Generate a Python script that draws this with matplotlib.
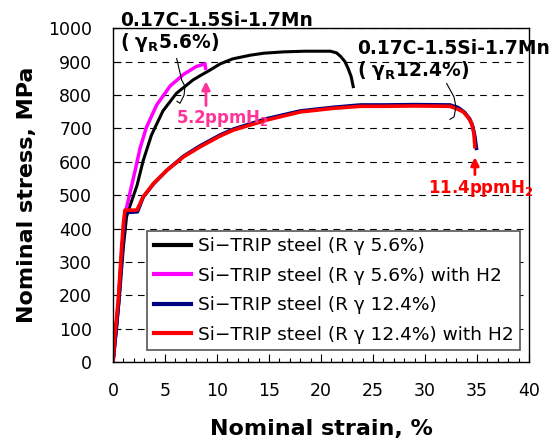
import matplotlib
matplotlib.use("Agg")
import matplotlib.pyplot as plt

plt.rcParams['font.family'] = ['DejaVu Sans']
plt.rcParams['mathtext.fontset'] = 'dejavusans'
plt.rcParams['mathtext.default'] = 'bf'

# Stress-strain curves (strain %, stress MPa)
strain_56 = [0, 0.35, 0.67, 1.0, 1.3, 1.6, 2.3, 2.9, 3.7, 4.8, 6.1, 7.7, 8.4, 9.3, 10.3,
             11.5, 13.2, 14.5, 16.4, 18.5, 20.9, 21.5, 21.9, 22.3, 22.6, 22.9, 23.1]
stress_56 = [0, 106, 215, 345, 435, 465, 528, 603, 680, 752, 805, 845, 858, 874, 893,
             908, 919, 925, 929, 931, 931, 926, 915, 900, 880, 855, 825]

strain_56h = [0, 0.3, 0.6, 0.9, 1.15, 1.32, 2.1, 2.6, 3.2, 4.2, 5.5, 6.8, 8.0, 8.85, 8.9]
stress_56h = [0, 100, 215, 350, 450, 465, 570, 640, 702, 770, 827, 862, 885, 893, 880]

strain_124 = [0, 0.25, 0.55, 0.7, 0.88, 1.05, 1.2, 2.35, 2.9, 3.9, 5.2, 6.8, 8.4, 10.3,
              11.6, 14.8, 18.0, 21.2, 23.8, 26.0, 29.0, 32.4, 33.2, 33.8, 34.3, 34.6, 34.8, 34.95]
stress_124 = [0, 80, 180, 262, 340, 410, 448, 450, 494, 534, 575, 617, 648, 680,
              698, 729, 752, 763, 770, 770, 771, 770, 762, 748, 728, 705, 675, 640]

strain_124h = [0, 0.2, 0.5, 0.67, 0.83, 1.0, 1.15, 2.3, 2.9, 3.9, 5.2, 6.8, 8.4, 10.3,
               11.6, 14.8, 18.0, 21.2, 23.8, 26.0, 29.0, 32.4, 33.1, 33.7, 34.2, 34.5, 34.7, 34.8]
stress_124h = [0, 86, 185, 265, 345, 415, 455, 455, 495, 535, 575, 615, 645, 677,
               695, 725, 749, 760, 766, 766, 767, 766, 758, 749, 730, 714, 685, 645]

labels = ['Si\u2212TRIP steel (R \u03b3 5.6%)',
          'Si\u2212TRIP steel (R \u03b3 5.6%) with H2',
          'Si\u2212TRIP steel (R \u03b3 12.4%)',
          'Si\u2212TRIP steel (R \u03b3 12.4%) with H2']

# leader lines linking compositions to curves
leader_56_x = [6.12, 6.61, 6.92, 6.83, 6.44, 6.15]
leader_56_y = [909, 844, 826, 799, 775, 781]
leader_124_x = [32.09, 32.79, 32.98, 32.79, 32.4]
leader_124_y = [834, 794, 764, 734, 727]

fig = plt.figure(figsize=(5.6, 4.47), dpi=100)
ax = fig.add_axes([0.2018, 0.19, 0.7428, 0.747])

ax.plot(strain_56, stress_56, '-', color='black', lw=2.2, label=labels[0])
ax.plot(strain_56h, stress_56h, '-', color='#ff00ff', lw=2.5, label=labels[1])
ax.plot(strain_124, stress_124, '-', color='#000080', lw=2.6, label=labels[2])
ax.plot(strain_124h, stress_124h, '-', color='#ff0000', lw=2.6, label=labels[3])

ax.plot(leader_56_x, leader_56_y, '-', color='black', lw=0.8)
ax.plot(leader_124_x, leader_124_y, '-', color='black', lw=0.8)

ax.set_xlim(0, 40)
ax.set_ylim(0, 1000)
ax.set_xticks(range(0, 41, 5))
ax.set_xticks(range(0, 41, 1), minor=True)
ax.set_yticks(range(0, 1001, 100))
ax.tick_params(axis='both', which='major', direction='in', length=6, width=0.8, labelsize=12.5)
ax.tick_params(axis='x', which='minor', direction='in', length=3, width=0.8)
ax.tick_params(axis='x', pad=14)
ax.tick_params(axis='y', pad=15)
for s in ax.spines.values():
    s.set_linewidth(1.0)
ax.yaxis.grid(True, linestyle=(0, (6, 5)), color='black', lw=0.8)

ax.set_xlabel('Nominal strain, %', fontsize=16, fontweight='bold', labelpad=14)
ax.set_ylabel('Nominal stress, MPa', fontsize=16, fontweight='bold', labelpad=8)

# Annotations
ax.text(0.67, 1024, '0.17C-1.5Si-1.7Mn', fontsize=13.4, fontweight='bold', va='center', ha='left')
ax.text(0.67, 958, '( $\\gamma_{R}$5.6%)', fontsize=13.4, fontweight='bold', va='center', ha='left')
ax.text(23.5, 940, '0.17C-1.5Si-1.7Mn', fontsize=13.4, fontweight='bold', va='center', ha='left')
ax.text(23.5, 874, '( $\\gamma_{R}$12.4%)', fontsize=13.4, fontweight='bold', va='center', ha='left')

ax.annotate('', xy=(8.94, 849), xytext=(8.94, 760),
            arrowprops=dict(arrowstyle='-|>', color='#ff3399', lw=2, mutation_scale=12))
ax.text(6.06, 730, '5.2ppmH$_2$', color='#ff3399', fontsize=12, fontweight='bold', va='center')
ax.annotate('', xy=(34.8, 622), xytext=(34.8, 553),
            arrowprops=dict(arrowstyle='-|>', color='#ff0000', lw=2, mutation_scale=12))
ax.text(30.3, 521, '11.4ppmH$_2$', color='#ff0000', fontsize=12, fontweight='bold', va='center')

leg = ax.legend(loc='lower left', bbox_to_anchor=(0.082, 0.036), borderaxespad=0,
                fancybox=False, framealpha=1, edgecolor='#555555',
                handlelength=2.0, handletextpad=0.4, labelspacing=0.62, borderpad=0.35,
                prop={'family': ['DejaVu Sans'], 'size': 13.3})
leg.get_frame().set_linewidth(1.2)
for line in leg.get_lines():
    line.set_linewidth(3)

fig.savefig('out.png', dpi=100)
